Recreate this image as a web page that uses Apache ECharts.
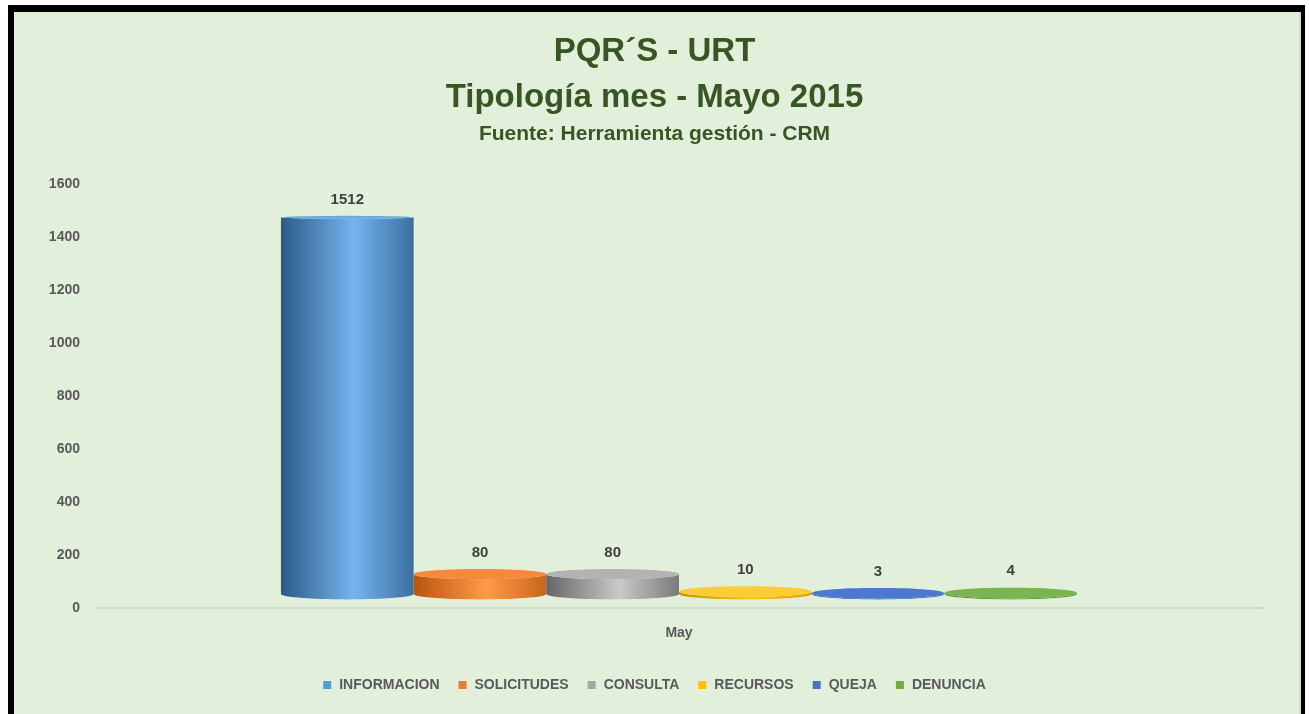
<!DOCTYPE html>
<html>
<head>
<meta charset="utf-8">
<script src="https://cdn.jsdelivr.net/npm/echarts@6/dist/echarts.min.js"></script>
<style>
  html, body { margin: 0; padding: 0; background: #ffffff; }
  #frame {
    position: absolute; left: 8px; top: 5px; width: 1297px; height: 720px;
    box-sizing: border-box; background: #e2efda;
    border-left: 6px solid #000; border-top: 7px solid #000; border-right: 4px solid #000;
    box-shadow: inset -2px 0 0 #d8d8d8;
  }
  #main { position: absolute; left: 0; top: 0; width: 1309px; height: 714px; }
</style>
</head>
<body>
<div id="frame"></div>
<div id="main"></div>
<script>
// data
var months = ['May'];
var tipos = ['INFORMACION', 'SOLICITUDES', 'CONSULTA', 'RECURSOS', 'QUEJA', 'DENUNCIA'];
var valores = [1512, 80, 80, 10, 3, 4];
var yTicks = [0, 200, 400, 600, 800, 1000, 1200, 1400, 1600];

// flat colour (legend) + shading for the cylinders
var colores = ['#5b9bd5', '#ed7d31', '#a5a5a5', '#ffc000', '#4472c4', '#70ad47'];
var sombras = [
  ['#2c5a86', '#74b4ee', '#3b6fa0'],
  ['#b8540f', '#ff9a48', '#c9651c'],
  ['#666666', '#c9c9c9', '#7a7a7a'],
  ['#c99400', '#ffc61a', '#d9a300'],
  ['#2c4f98', '#4a78cc', '#2f5399'],
  ['#4a7a2a', '#73ad49', '#4f822e']
];
var tapas = ['#6aaae4', '#f7883c', '#b3b3b3', '#ffcc33', '#4b79cf', '#7bb552'];

var myChart = echarts.init(document.getElementById('main'), null, { renderer: 'canvas' });

function arco(cx, cy, rx, ry, a0, a1, n) {
  var pts = [];
  for (var k = 0; k <= n; k++) {
    var t = a0 + (a1 - a0) * k / n;
    pts.push([cx + rx * Math.cos(t), cy + ry * Math.sin(t)]);
  }
  return pts;
}

function cilindro(idx) {
  return function (params, api) {
    var v = api.value(1);
    var base = api.coord([0, 0]);
    var tope = api.coord([0, v]);
    var band = api.size([1, 0])[0];
    var w = band * 0.1136;
    var cx = base[0] + (idx - (tipos.length - 1) / 2) * w;
    var rx = w / 2;
    var botY = base[1] - 14;
    var topY = botY - (base[1] - tope[1]) * 0.94;
    var ryB = Math.max(1.5, (botY - 180) * 0.013);
    var ryT = Math.max(1.5, (topY - 180) * 0.013);

    var cuerpo = [[cx - rx, topY], [cx - rx, botY]]
      .concat(arco(cx, botY, rx, ryB, Math.PI, 0, 30))
      .concat([[cx + rx, topY]])
      .concat(arco(cx, topY, rx, ryT, 0, Math.PI, 30));
    var tapa = arco(cx, topY, rx, ryT, 0, Math.PI * 2, 60);
    var s = sombras[idx];
    var grad = new echarts.graphic.LinearGradient(0, 0, 1, 0, [
      { offset: 0, color: s[0] },
      { offset: 0.55, color: s[1] },
      { offset: 1, color: s[2] }
    ]);
    return {
      type: 'group',
      children: [
        { type: 'polygon', shape: { points: cuerpo }, style: { fill: grad } },
        { type: 'polygon', shape: { points: tapa }, style: { fill: tapas[idx] } },
        {
          type: 'text',
          style: {
            text: String(valores[idx]), x: cx, y: topY - ryT - 9,
            align: 'center', verticalAlign: 'bottom',
            fill: '#404040', fontSize: 15, fontWeight: 'bold', fontFamily: 'Liberation Sans'
          }
        }
      ]
    };
  };
}

var series = tipos.map(function (nombre, i) {
  return {
    name: nombre,
    type: 'custom',
    itemStyle: { color: colores[i] },
    data: [[0, valores[i]]],
    renderItem: cilindro(i)
  };
});

var tituloBase = { left: 'center', textStyle: { color: '#375623', fontFamily: 'Liberation Sans', fontWeight: 'bold' } };

var option = {
  animation: false,
  title: [
    Object.assign({}, tituloBase, { text: 'PQR´S - URT', top: 30, textStyle: Object.assign({}, tituloBase.textStyle, { fontSize: 33 }) }),
    Object.assign({}, tituloBase, { text: 'Tipología mes - Mayo 2015', top: 76, textStyle: Object.assign({}, tituloBase.textStyle, { fontSize: 33 }) }),
    Object.assign({}, tituloBase, { text: 'Fuente: Herramienta gestión - CRM', top: 119, textStyle: Object.assign({}, tituloBase.textStyle, { fontSize: 21 }) })
  ],
  legend: {
    bottom: 17,
    left: 'center',
    icon: 'rect',
    itemWidth: 8,
    itemHeight: 8,
    itemGap: 19,
    data: tipos,
    textStyle: { color: '#595959', fontSize: 14, fontWeight: 'bold', fontFamily: 'Liberation Sans', padding: [0, 0, 0, 3] }
  },
  grid: { left: 95, right: 46, top: 184, bottom: 106 },
  xAxis: {
    type: 'category',
    data: months,
    axisLine: { lineStyle: { color: '#d4d9d0', width: 2 } },
    axisTick: { show: false },
    axisLabel: { margin: 18, color: '#595959', fontSize: 14, fontWeight: 'bold', fontFamily: 'Liberation Sans' }
  },
  yAxis: {
    type: 'value',
    min: yTicks[0],
    max: yTicks[yTicks.length - 1],
    interval: yTicks[1] - yTicks[0],
    axisLine: { show: false },
    axisTick: { show: false },
    splitLine: { show: false },
    axisLabel: {
      margin: 15, color: '#595959', fontSize: 14, fontWeight: 'bold', fontFamily: 'Liberation Sans',
      formatter: function (v) { return String(v); }
    }
  },
  series: series
};

myChart.setOption(option);
</script>
</body>
</html>
